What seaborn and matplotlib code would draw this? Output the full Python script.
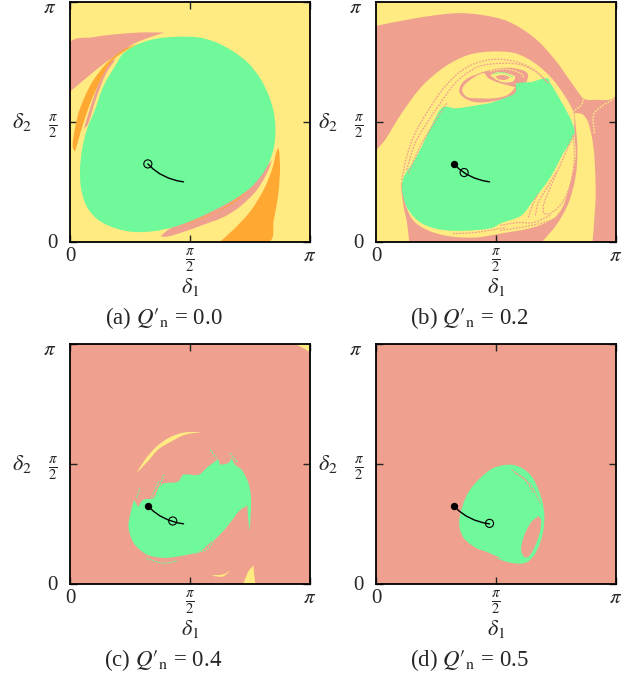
import numpy as np
import matplotlib
matplotlib.use('Agg')
import matplotlib.pyplot as plt
import seaborn as sns
from matplotlib.path import Path
from matplotlib.patches import PathPatch

sns.set_style('ticks')
plt.rcParams['font.family'] = ['Liberation Serif', 'DejaVu Serif']
plt.rcParams['mathtext.fontset'] = 'stix'

PINK = '#EFA08F'
YELLOW = '#FFEB82'
GREEN = '#6FF99B'
ORANGE = '#FFA832'

# ========== data: everything in units of pi ==========
# trajectory shared by all panels
curve_x = [.325, .348, .376, .411, .446, .474]
curve_y = [.324, .302, .282, .265, .254, .249]

captions = [r"(a) $Q\prime_{\mathrm{n}}$ = 0.0", r"(b) $Q\prime_{\mathrm{n}}$ = 0.2",
            r"(c) $Q\prime_{\mathrm{n}}$ = 0.4", r"(d) $Q\prime_{\mathrm{n}}$ = 0.5"]
open_x = [.325, .368, .429, .474]
open_y = [.324, .288, .261, .251]
filled_x = [None, .325, .325, .325]
filled_y = [None, .324, .324, .324]

# panel a
a_pink_top = [(0, .828), (.097, .853), (.209, .867), (.306, .873), (.393, .872), (.334, .853), (.265, .825),
              (.209, .786), (.153, .751), (.084, .696), (0, .626)]
a_orange_left = [(.011, .396), (.021, .375), (.031, .410), (.058, .501), (.090, .591), (.132, .681), (.181, .758),
                 (.237, .800), (.292, .828), (.223, .800), (.153, .744), (.090, .661), (.042, .556), (.021, .473)]
a_pink_sliver = [(.058, .470), (.088, .570), (.125, .670), (.170, .750), (.190, .760), (.150, .700), (.110, .600),
                 (.075, .490)]
a_orange_right = [(.627, 0), (.682, .049), (.752, .125), (.808, .215), (.843, .299), (.864, .382), (.872, .389),
                  (.877, .314), (.870, .202), (.850, .085), (.831, 0)]
a_pink_bottom = [(.379, .021), (.404, .020), (.474, .040), (.557, .070), (.641, .102), (.710, .146), (.780, .215),
                 (.829, .299), (.843, .341), (.801, .290), (.738, .240), (.654, .185), (.557, .125), (.474, .085),
                 (.404, .045)]
a_orange_sliver = [(.440, .055), (.560, .100), (.680, .160), (.780, .240), (.750, .215), (.640, .140), (.540, .095)]
a_green = [(.467, .855), (.543, .851), (.613, .830), (.682, .793), (.745, .744), (.794, .681), (.829, .612),
           (.850, .542), (.858, .466), (.852, .396), (.833, .334), (.801, .278), (.752, .223), (.682, .174),
           (.599, .129), (.515, .090), (.432, .060), (.348, .043), (.265, .040), (.188, .056), (.118, .090),
           (.070, .146), (.046, .223), (.042, .299), (.050, .382), (.070, .466), (.104, .549), (.139, .647),
           (.195, .744), (.223, .786), (.279, .821), (.334, .841), (.390, .851)]

# panel b
b_yellow_top = [(0, .900), (.163, .932), (.330, .953), (.441, .946), (.553, .918), (.664, .848), (.748, .758),
                (.818, .661), (.866, .598), (.901, .591), (1, .612), (1, 1), (0, 1)]
b_yellow_egg = [(0, .369), (.038, .424), (.107, .535), (.191, .647), (.288, .730), (.386, .779), (.483, .793),
                (.581, .786), (.664, .744), (.734, .681), (.790, .605), (.825, .535), (.828, .452), (.833, .351),
                (.803, .213), (.778, .142), (.741, .096), (.657, .059), (.519, .033), (.418, .017), (.305, .022),
                (.209, .050), (.150, .095), (.120, .170), (.112, .250), (.105, .243), (.113, .159), (.130, .075),
                (.138, 0), (0, 0)]
b_yellow_right = [(.828, .536), (.862, .531), (.887, .494), (.908, .393), (.916, .268), (.916, .159), (.904, 0),
                  (.695, 0), (.757, .075), (.803, .159), (.833, .268), (.841, .381), (.833, .494)]
b_green = [(.280, .561), (.331, .556), (.423, .569), (.490, .582), (.548, .611), (.573, .644), (.594, .665),
           (.644, .665), (.715, .682), (.728, .661), (.778, .577), (.820, .494), (.828, .448), (.782, .368),
           (.728, .268), (.657, .172), (.607, .109), (.519, .075), (.483, .056), (.372, .045), (.274, .049),
           (.191, .076), (.135, .132), (.111, .202), (.114, .264), (.167, .350), (.209, .435), (.243, .506)]
b_pink_lobe = [(.347, .632), (.372, .674), (.444, .707), (.477, .715), (.519, .724), (.573, .724), (.632, .703),
               (.628, .665), (.582, .661), (.582, .623), (.548, .603), (.490, .586), (.414, .582), (.364, .603)]
b_yellow_blob = [(.360, .632), (.381, .665), (.448, .703), (.469, .682), (.506, .665), (.548, .653), (.582, .644),
                 (.548, .611), (.490, .598), (.423, .598), (.381, .603)]
b_yellow_ring = [(.477, .695), (.506, .707), (.548, .703), (.582, .690), (.573, .669), (.531, .665), (.498, .678)]
b_pink_core = [(.500, .690), (.530, .695), (.560, .685), (.540, .675), (.510, .678)]
b_pink_lines = [
    [(.107, .257), (.128, .354), (.163, .452), (.219, .549), (.288, .647), (.372, .723), (.469, .758), (.566, .755),
     (.650, .723), (.720, .661)],
    [(.128, .299), (.163, .410), (.212, .494), (.288, .605), (.344, .675), (.428, .730), (.525, .744), (.609, .737),
     (.678, .702), (.720, .661)],
    [(.135, .285), (.184, .396), (.233, .480), (.295, .577)],
    [(.824, .444), (.828, .351), (.812, .243), (.778, .163), (.728, .117), (.699, .117), (.699, .151), (.728, .226),
     (.778, .339), (.824, .444)],
    [(.665, .109), (.678, .163), (.715, .226), (.757, .297)],
    [(.636, .100), (.653, .151), (.678, .201)],
    [(.519, .067), (.590, .079), (.657, .079), (.728, .109)],
    [(.519, .046), (.603, .059), (.686, .075), (.749, .096)],
    [(.322, .033), (.418, .038), (.544, .059)],
]
b_yellow_lines = [
    [(.912, .452), (.908, .527), (.937, .561), (.992, .594)],
    [(.820, .540), (.862, .577), (.862, .623)],
    [(.477, .711), (.540, .720), (.603, .703), (.619, .682)],
]
b_green_lines = [[(.490, .700), (.530, .705), (.575, .685)]]

# panel c
c_crescent = [(.278, .461), (.313, .517), (.362, .572), (.418, .611), (.480, .631), (.550, .632), (.480, .621),
              (.430, .597), (.369, .560), (.325, .510)]
c_yellow_tip = [(.724, 0), (.745, .051), (.766, .075), (.773, 0)]
c_yellow_arc = [(.592, .035), (.640, .038), (.672, .056), (.640, .030), (.606, .030)]
c_yellow_corner = [(.940, 1), (1, 1), (1, .967), (.970, .985)]
c_green = [(.244, .239), (.251, .287), (.267, .350), (.285, .319), (.306, .350), (.348, .357), (.369, .399),
           (.383, .413), (.397, .419), (.452, .426), (.473, .454), (.536, .454), (.574, .486), (.606, .510),
           (.619, .520), (.626, .496), (.661, .503), (.675, .524), (.689, .496), (.717, .475), (.745, .419),
           (.755, .364), (.755, .294), (.750, .218), (.743, .281), (.741, .325), (.710, .306), (.668, .253),
           (.626, .204), (.585, .170), (.543, .135), (.459, .114), (.390, .107), (.320, .121), (.271, .162),
           (.251, .204)]
c_green_lines = [
    [(.278, .356), (.292, .398)],
    [(.668, .543), (.700, .505)],
    [(.585, .558), (.612, .523)],
    [(.320, .105), (.390, .085), (.450, .095)],
    [(.640, .260), (.580, .150), (.520, .125)],
    [(.372, .400), (.392, .455)],
    [(.340, .360), (.372, .430)],
]

# panel d
d_green = [(.560, .496), (.609, .482), (.650, .447), (.678, .392), (.696, .336), (.703, .281), (.699, .225),
           (.685, .169), (.657, .114), (.623, .086), (.567, .086), (.497, .107), (.428, .142), (.372, .183),
           (.351, .225), (.348, .267), (.365, .336), (.393, .392), (.435, .440), (.490, .482)]
d_pink_hole = [(.678, .281), (.689, .267), (.685, .218), (.664, .156), (.636, .111), (.616, .114), (.606, .149),
               (.623, .211), (.650, .258)]
d_pink_lens = [(.403, .149), (.455, .135), (.525, .103), (.469, .111), (.421, .131)]
d_pink_lines = [
    [(.567, .475), (.609, .444), (.650, .406), (.685, .336)],
    [(.581, .461), (.623, .433), (.657, .378)],
]

# panel content: background, then filled regions and thin lines in drawing order
panels = [
    (YELLOW, [(a_pink_top, PINK), (a_orange_left, ORANGE), (a_pink_sliver, PINK), (a_orange_right, ORANGE),
              (a_pink_bottom, PINK), (a_orange_sliver, ORANGE), (a_green, GREEN)], []),
    (PINK, [(b_yellow_top, YELLOW), (b_yellow_egg, YELLOW), (b_yellow_right, YELLOW), (b_green, GREEN),
            (b_pink_lobe, PINK), (b_yellow_blob, YELLOW), (b_yellow_ring, YELLOW), (b_pink_core, PINK)],
     [(b_pink_lines, PINK), (b_yellow_lines, YELLOW), (b_green_lines, GREEN)]),
    (PINK, [(c_crescent, YELLOW), (c_yellow_tip, YELLOW), (c_yellow_arc, YELLOW), (c_yellow_corner, YELLOW),
            (c_green, GREEN)], [(c_green_lines, GREEN)]),
    (PINK, [(d_green, GREEN), (d_pink_hole, PINK), (d_pink_lens, PINK)], [(d_pink_lines, PINK)]),
]

# axes boxes in pixels: left, top
boxes = [(70, 2), (376, 2), (70, 344), (376, 344)]
W, H = 632, 677
SIDE = 239.5


# bezier outline through the read points, sharp turns stay sharp
def outline(pts, closed=True):
    p = np.array(pts, dtype=float) * np.pi
    n = len(p)
    tan = np.zeros_like(p)
    for k in range(n):
        if not closed and k in (0, n - 1):
            d = p[1] - p[0] if k == 0 else p[-1] - p[-2]
            tan[k] = d / np.linalg.norm(d)
            continue
        v1 = p[k] - p[k - 1]
        v2 = p[(k + 1) % n] - p[k]
        c = v1 @ v2 / (np.linalg.norm(v1) * np.linalg.norm(v2))
        if c > 0.2:
            d = v1 + v2
            tan[k] = d / np.linalg.norm(d)
    verts = [p[0]]
    codes = [Path.MOVETO]
    for k in range(n if closed else n - 1):
        a, b = p[k], p[(k + 1) % n]
        L = np.linalg.norm(b - a) / 3
        verts += [a + tan[k] * L, b - tan[(k + 1) % n] * L, b]
        codes += [Path.CURVE4] * 3
    return Path(verts, codes)


# ========== drawing ==========
fig = plt.figure(figsize=(W / 100, H / 100), dpi=100)

for i, (bg, regions, lines) in enumerate(panels):
    left, top = boxes[i]
    ax = fig.add_axes([left / W, 1 - (top + SIDE) / H, SIDE / W, SIDE / H])
    ax.set_facecolor(bg)

    for pts, color in regions:
        ax.add_patch(PathPatch(outline(pts), facecolor=color, edgecolor='none', lw=0))
    for group, color in lines:
        for pts in group:
            ax.add_patch(PathPatch(outline(pts, closed=False), fill=False, edgecolor=color, lw=0.9,
                                   linestyle=(0, (1.5, 1))))

    sns.lineplot(x=np.array(curve_x) * np.pi, y=np.array(curve_y) * np.pi, color='black', lw=1.0,
                 sort=False, estimator=None, ax=ax)
    if filled_x[i] is not None:
        sns.scatterplot(x=[filled_x[i] * np.pi], y=[filled_y[i] * np.pi], color='black', s=28, linewidth=0,
                        ax=ax, zorder=5)
    sns.scatterplot(x=[open_x[i] * np.pi], y=[open_y[i] * np.pi], facecolor='none', edgecolor='black', s=34,
                    linewidth=0.8, ax=ax, zorder=6)

    ax.set_xlim(0, np.pi)
    ax.set_ylim(0, np.pi)
    ticks = [0, np.pi / 2, np.pi]
    ax.set_xticks(ticks, ['0', r'$\frac{\pi}{2}$', r'$\pi$'], fontsize=15)
    ax.set_yticks(ticks, ['0', r'$\frac{\pi}{2}$', ''], fontsize=15)
    ax.tick_params(direction='in', length=5, width=1.0, top=True, right=True, color='#222222', pad=4)
    ax.tick_params(axis='y', pad=9)
    # top pi label sits a little below the axes corner
    ax.annotate(r'$\pi$', xy=(0, 1), xycoords='axes fraction', xytext=(-14.4, -4.5), textcoords='offset points',
                ha='center', va='center', fontsize=15)
    for s in ax.spines.values():
        s.set_linewidth(1.3)
        s.set_color('black')
    ax.set_xlabel(r'$\delta_1$', fontsize=16, va='center')
    ax.set_ylabel(r'$\delta_2$', fontsize=16, rotation=0, va='center')
    ax.yaxis.set_label_coords(-0.2, 0.5)
    ax.xaxis.set_label_coords(0.5, -0.19)
    ax.text(0.39, -0.318, captions[i], transform=ax.transAxes, ha='center', va='center', fontsize=16.5)

fig.savefig('out.png', dpi=100)
